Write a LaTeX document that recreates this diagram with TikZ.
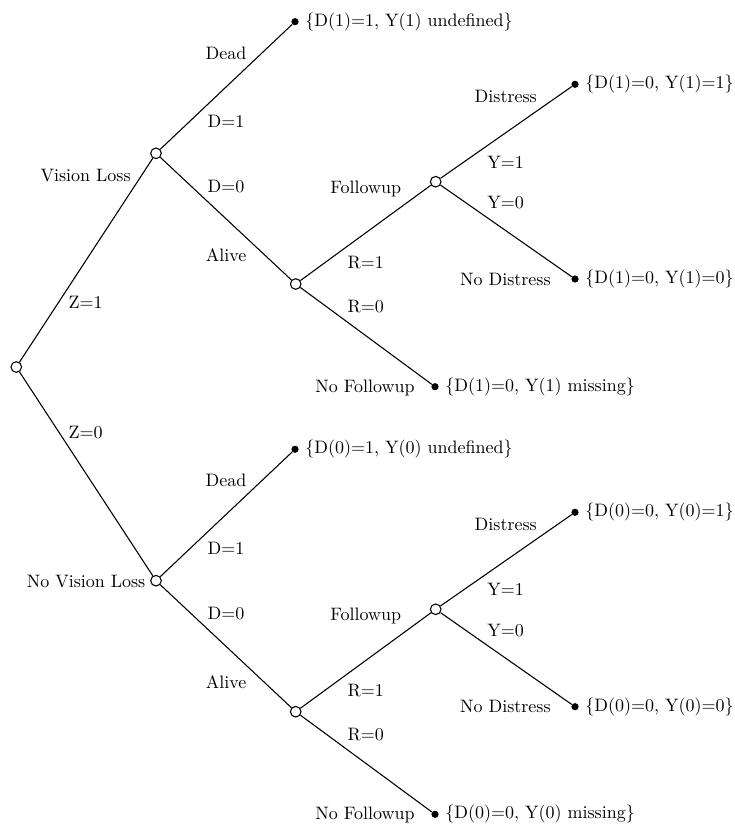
\documentclass[tikz,border=0pt]{standalone}
\begin{document}
\begin{tikzpicture}[x=0.5556pt,y=-0.5556pt,
  chance/.style={circle,draw,fill=white,line width=0.6pt,minimum size=5.9pt,inner sep=0pt},
  leaf/.style={circle,fill=black,minimum size=4pt,inner sep=0pt},
  lbl/.style={inner sep=0pt,font=\fontsize{10}{12}\selectfont},
  outc/.style={inner sep=0pt,anchor=west,font=\fontsize{10}{12}\selectfont},
  edge/.style={line width=0.6pt}]
\useasboundingbox (0,0) rectangle (735,825);
% nodes top half
\node[chance] (root) at (16.3,367) {};
\node[chance] (vl) at (156,153.3) {};
\node[leaf] (dead1) at (295,21.7) {};
\node[chance] (alive1) at (295.7,284) {};
\node[chance] (fu1) at (435.7,181.7) {};
\node[leaf] (dis1) at (575,84.3) {};
\node[leaf] (nodis1) at (575,279) {};
\node[leaf] (nofu1) at (435,386.7) {};
% nodes bottom half
\node[chance] (nvl) at (156,580.7) {};
\node[leaf] (dead0) at (295,449.3) {};
\node[chance] (alive0) at (295.7,711.7) {};
\node[chance] (fu0) at (435.7,609.3) {};
\node[leaf] (dis0) at (575,512.3) {};
\node[leaf] (nodis0) at (575,706.7) {};
\node[leaf] (nofu0) at (435,814.3) {};
% edges
\draw[edge] (root) -- (vl);
\draw[edge] (root) -- (nvl);
\draw[edge] (vl) -- (dead1);
\draw[edge] (vl) -- (alive1);
\draw[edge] (alive1) -- (fu1);
\draw[edge] (alive1) -- (nofu1);
\draw[edge] (fu1) -- (dis1);
\draw[edge] (fu1) -- (nodis1);
\draw[edge] (nvl) -- (dead0);
\draw[edge] (nvl) -- (alive0);
\draw[edge] (alive0) -- (fu0);
\draw[edge] (alive0) -- (nofu0);
\draw[edge] (fu0) -- (dis0);
\draw[edge] (fu0) -- (nodis0);
% outcome texts
\node[outc] (o1) at (305,21.7) {\{D(1)=1, Y(1) undefined\}};
\node[outc] (o2) at (585,84.3) {\{D(1)=0, Y(1)=1\}};
\node[outc] (o3) at (585,279) {\{D(1)=0, Y(1)=0\}};
\node[outc] (o4) at (445,386.7) {\{D(1)=0, Y(1) missing\}};
\node[outc] (o5) at (305,449.3) {\{D(0)=1, Y(0) undefined\}};
\node[outc] (o6) at (585,512.3) {\{D(0)=0, Y(0)=1\}};
\node[outc] (o7) at (585,706.7) {\{D(0)=0, Y(0)=0\}};
\node[outc] (o8) at (445,814.3) {\{D(0)=0, Y(0) missing\}};
% top half labels
\node[lbl] (lz1) at (85.7,302.7) {Z=1};
\node[lbl,anchor=east] (lvl) at (131,175.7) {Vision Loss};
\node[lbl] (ldead1) at (226,53) {Dead};
\node[lbl] (ld11) at (226,121) {D=1};
\node[lbl] (ld01) at (226,186.7) {D=0};
\node[lbl] (lalive1) at (226,255) {Alive};
\node[lbl] (lfu1) at (365.7,189) {Followup};
\node[lbl] (lr11) at (365.7,262.7) {R=1};
\node[lbl] (lr01) at (365.7,306.7) {R=0};
\node[lbl,anchor=east] (lnofu1) at (415,387.7) {No Followup};
\node[lbl] (ldis1) at (505.7,96.7) {Distress};
\node[lbl] (ly11) at (505.7,162.3) {Y=1};
\node[lbl] (ly01) at (505.7,202.7) {Y=0};
\node[lbl,anchor=east] (lnodis1) at (551,279) {No Distress};
% bottom half labels
\node[lbl] (lz0) at (85.7,432.7) {Z=0};
\node[lbl,anchor=east] (lnvl) at (145.7,581.7) {No Vision Loss};
\node[lbl] (ldead0) at (226,480.7) {Dead};
\node[lbl] (ld10) at (226,548.3) {D=1};
\node[lbl] (ld00) at (226,614) {D=0};
\node[lbl] (lalive0) at (226,682.3) {Alive};
\node[lbl] (lfu0) at (365.7,616.4) {Followup};
\node[lbl] (lr10) at (365.7,690.1) {R=1};
\node[lbl] (lr00) at (365.7,734.1) {R=0};
\node[lbl,anchor=east] (lnofu0) at (415,815.1) {No Followup};
\node[lbl] (ldis0) at (505.7,524.1) {Distress};
\node[lbl] (ly10) at (505.7,589.7) {Y=1};
\node[lbl] (ly00) at (505.7,630.1) {Y=0};
\node[lbl,anchor=east] (lnodis0) at (551,706.7) {No Distress};
\end{tikzpicture}
\end{document}
